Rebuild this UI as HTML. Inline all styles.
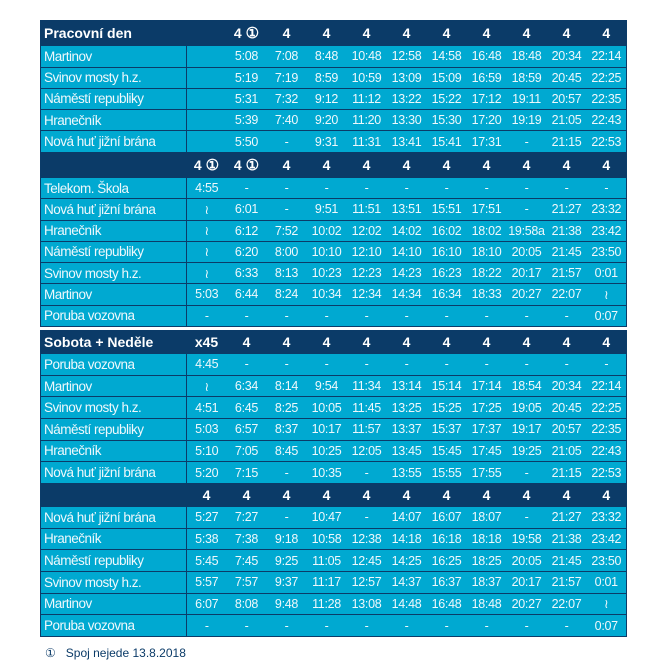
<!DOCTYPE html><html><head><meta charset="utf-8"><style>
body{margin:0;background:#fff;width:666px;height:666px;position:relative;font-family:"Liberation Sans",Arial,sans-serif;}
table{position:absolute;left:40px;width:586px;border-collapse:collapse;table-layout:fixed;}
td{padding:0;color:#fff;font-size:12.5px;letter-spacing:-0.3px;text-align:center;white-space:nowrap;overflow:hidden;border-top:1px solid #0b3b68;border-bottom:1px solid #0b3b68;}
tr.d td{background:#00a9d1;color:#eef8fc;}
tr.d td:first-child{text-align:left;padding-left:3px;border-right:1px solid #0b3b68;font-size:13.5px;letter-spacing:-0.5px;}
tr.h td{background:#0b3b68;font-weight:bold;font-size:14px;letter-spacing:0;}
tr.h td:first-child{text-align:left;padding-left:3px;}
table{border-left:1px solid #0b3b68;border-right:1px solid #0b3b68;}
.c{font-weight:bold;font-size:15px;}
.f{position:absolute;left:45px;top:646px;font-size:12px;color:#0b3b68;}
</style></head><body>
<table style="top:20px;height:307px">
<colgroup><col style="width:146px"><col span="11" style="width:40px"></colgroup>
<tr class="h"><td>Pracovní den</td><td></td><td>4 <span class="c">①</span></td><td>4</td><td>4</td><td>4</td><td>4</td><td>4</td><td>4</td><td>4</td><td>4</td><td>4</td></tr>
<tr class="d"><td>Martinov</td><td></td><td>5:08</td><td>7:08</td><td>8:48</td><td>10:48</td><td>12:58</td><td>14:58</td><td>16:48</td><td>18:48</td><td>20:34</td><td>22:14</td></tr>
<tr class="d"><td>Svinov mosty h.z.</td><td></td><td>5:19</td><td>7:19</td><td>8:59</td><td>10:59</td><td>13:09</td><td>15:09</td><td>16:59</td><td>18:59</td><td>20:45</td><td>22:25</td></tr>
<tr class="d"><td>Náměstí republiky</td><td></td><td>5:31</td><td>7:32</td><td>9:12</td><td>11:12</td><td>13:22</td><td>15:22</td><td>17:12</td><td>19:11</td><td>20:57</td><td>22:35</td></tr>
<tr class="d"><td>Hranečník</td><td></td><td>5:39</td><td>7:40</td><td>9:20</td><td>11:20</td><td>13:30</td><td>15:30</td><td>17:20</td><td>19:19</td><td>21:05</td><td>22:43</td></tr>
<tr class="d"><td>Nová huť jižní brána</td><td></td><td>5:50</td><td>-</td><td>9:31</td><td>11:31</td><td>13:41</td><td>15:41</td><td>17:31</td><td>-</td><td>21:15</td><td>22:53</td></tr>
<tr class="h"><td></td><td>4 <span class="c">①</span></td><td>4 <span class="c">①</span></td><td>4</td><td>4</td><td>4</td><td>4</td><td>4</td><td>4</td><td>4</td><td>4</td><td>4</td></tr>
<tr class="d"><td>Telekom. Škola</td><td>4:55</td><td>-</td><td>-</td><td>-</td><td>-</td><td>-</td><td>-</td><td>-</td><td>-</td><td>-</td><td>-</td></tr>
<tr class="d"><td>Nová huť jižní brána</td><td>≀</td><td>6:01</td><td>-</td><td>9:51</td><td>11:51</td><td>13:51</td><td>15:51</td><td>17:51</td><td>-</td><td>21:27</td><td>23:32</td></tr>
<tr class="d"><td>Hranečník</td><td>≀</td><td>6:12</td><td>7:52</td><td>10:02</td><td>12:02</td><td>14:02</td><td>16:02</td><td>18:02</td><td>19:58a</td><td>21:38</td><td>23:42</td></tr>
<tr class="d"><td>Náměstí republiky</td><td>≀</td><td>6:20</td><td>8:00</td><td>10:10</td><td>12:10</td><td>14:10</td><td>16:10</td><td>18:10</td><td>20:05</td><td>21:45</td><td>23:50</td></tr>
<tr class="d"><td>Svinov mosty h.z.</td><td>≀</td><td>6:33</td><td>8:13</td><td>10:23</td><td>12:23</td><td>14:23</td><td>16:23</td><td>18:22</td><td>20:17</td><td>21:57</td><td>0:01</td></tr>
<tr class="d"><td>Martinov</td><td>5:03</td><td>6:44</td><td>8:24</td><td>10:34</td><td>12:34</td><td>14:34</td><td>16:34</td><td>18:33</td><td>20:27</td><td>22:07</td><td>≀</td></tr>
<tr class="d"><td>Poruba vozovna</td><td>-</td><td>-</td><td>-</td><td>-</td><td>-</td><td>-</td><td>-</td><td>-</td><td>-</td><td>-</td><td>0:07</td></tr>
</table>
<table style="top:330px;height:307px">
<colgroup><col style="width:146px"><col span="11" style="width:40px"></colgroup>
<tr class="h"><td>Sobota + Neděle</td><td>x45</td><td>4</td><td>4</td><td>4</td><td>4</td><td>4</td><td>4</td><td>4</td><td>4</td><td>4</td><td>4</td></tr>
<tr class="d"><td>Poruba vozovna</td><td>4:45</td><td>-</td><td>-</td><td>-</td><td>-</td><td>-</td><td>-</td><td>-</td><td>-</td><td>-</td><td>-</td></tr>
<tr class="d"><td>Martinov</td><td>≀</td><td>6:34</td><td>8:14</td><td>9:54</td><td>11:34</td><td>13:14</td><td>15:14</td><td>17:14</td><td>18:54</td><td>20:34</td><td>22:14</td></tr>
<tr class="d"><td>Svinov mosty h.z.</td><td>4:51</td><td>6:45</td><td>8:25</td><td>10:05</td><td>11:45</td><td>13:25</td><td>15:25</td><td>17:25</td><td>19:05</td><td>20:45</td><td>22:25</td></tr>
<tr class="d"><td>Náměstí republiky</td><td>5:03</td><td>6:57</td><td>8:37</td><td>10:17</td><td>11:57</td><td>13:37</td><td>15:37</td><td>17:37</td><td>19:17</td><td>20:57</td><td>22:35</td></tr>
<tr class="d"><td>Hranečník</td><td>5:10</td><td>7:05</td><td>8:45</td><td>10:25</td><td>12:05</td><td>13:45</td><td>15:45</td><td>17:45</td><td>19:25</td><td>21:05</td><td>22:43</td></tr>
<tr class="d"><td>Nová huť jižní brána</td><td>5:20</td><td>7:15</td><td>-</td><td>10:35</td><td>-</td><td>13:55</td><td>15:55</td><td>17:55</td><td>-</td><td>21:15</td><td>22:53</td></tr>
<tr class="h"><td></td><td>4</td><td>4</td><td>4</td><td>4</td><td>4</td><td>4</td><td>4</td><td>4</td><td>4</td><td>4</td><td>4</td></tr>
<tr class="d"><td>Nová huť jižní brána</td><td>5:27</td><td>7:27</td><td>-</td><td>10:47</td><td>-</td><td>14:07</td><td>16:07</td><td>18:07</td><td>-</td><td>21:27</td><td>23:32</td></tr>
<tr class="d"><td>Hranečník</td><td>5:38</td><td>7:38</td><td>9:18</td><td>10:58</td><td>12:38</td><td>14:18</td><td>16:18</td><td>18:18</td><td>19:58</td><td>21:38</td><td>23:42</td></tr>
<tr class="d"><td>Náměstí republiky</td><td>5:45</td><td>7:45</td><td>9:25</td><td>11:05</td><td>12:45</td><td>14:25</td><td>16:25</td><td>18:25</td><td>20:05</td><td>21:45</td><td>23:50</td></tr>
<tr class="d"><td>Svinov mosty h.z.</td><td>5:57</td><td>7:57</td><td>9:37</td><td>11:17</td><td>12:57</td><td>14:37</td><td>16:37</td><td>18:37</td><td>20:17</td><td>21:57</td><td>0:01</td></tr>
<tr class="d"><td>Martinov</td><td>6:07</td><td>8:08</td><td>9:48</td><td>11:28</td><td>13:08</td><td>14:48</td><td>16:48</td><td>18:48</td><td>20:27</td><td>22:07</td><td>≀</td></tr>
<tr class="d"><td>Poruba vozovna</td><td>-</td><td>-</td><td>-</td><td>-</td><td>-</td><td>-</td><td>-</td><td>-</td><td>-</td><td>-</td><td>0:07</td></tr>
</table>
<div class="f">①&nbsp;&nbsp;&nbsp;Spoj nejede 13.8.2018</div>
</body></html>
